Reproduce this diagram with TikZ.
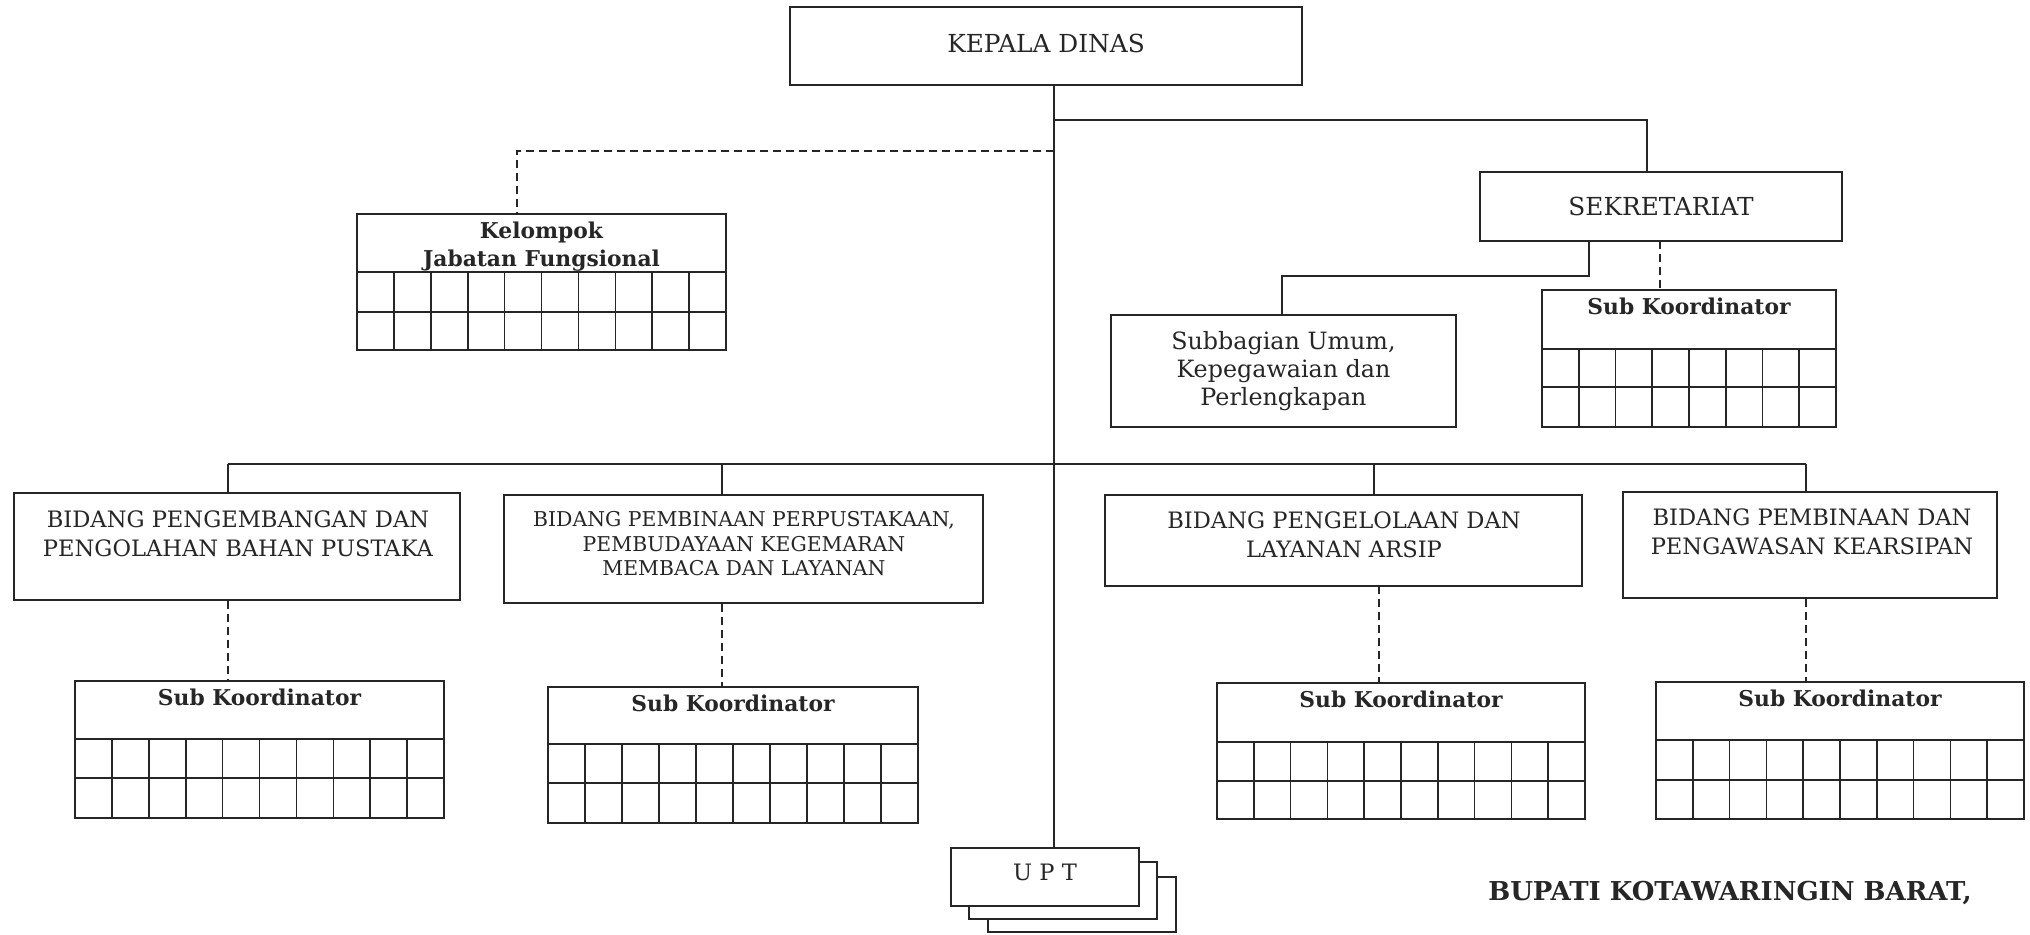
\documentclass[tikz,border=0pt]{standalone}
\usepackage{fontspec}
\setmainfont{DejaVu Serif}
\usetikzlibrary{fit}
\definecolor{ink}{HTML}{262626}
\tikzset{
  box/.style={draw=ink, line width=1.4pt, inner sep=0pt, fill=white},
  conn/.style={draw=ink, line width=1pt},
  dline/.style={draw=ink, line width=1pt, dash pattern=on 4pt off 2.5pt},
  gline/.style={draw=ink, line width=0.8pt},
  bigtext/.style={text=ink, inner sep=0pt, align=center, font=\fontsize{12.4}{15}\selectfont},
  captext/.style={text=ink, inner sep=0pt, align=center, font=\fontsize{11.3}{14.5}\selectfont},
  smallcap/.style={text=ink, inner sep=0pt, align=center, font=\fontsize{10.2}{12.3}\selectfont},
  subtext/.style={text=ink, inner sep=0pt, align=center, font=\fontsize{11.9}{14.2}\selectfont},
  sktext/.style={text=ink, inner sep=0pt, align=center, font=\bfseries\fontsize{10.9}{13.8}\selectfont},
}
\newcommand\gridbox[9]{%
  \node[box, fit={(#2,#4) (#3,#7)}] (#1) {};
  \draw[gline] (#2,#5) -- (#3,#5) (#2,#6) -- (#3,#6);
  \pgfmathtruncatemacro\gbn{#8-1}
  \foreach \i in {1,...,\gbn}{\draw[gline] ({#2+(#3-#2)*\i/#8},#5) -- ({#2+(#3-#2)*\i/#8},#7);}
  \node[sktext, anchor=north] (#1t) at ([yshift=-4.5pt]#1.north) {#9};
}
\begin{document}
\begin{tikzpicture}[x=0.5pt, y=-0.5pt]
\fill[white] (0,0) rectangle (2030,934);
\useasboundingbox (0,0) rectangle (2030,934);

% top level
\node[box, bigtext, text depth=3pt, minimum width=256pt, minimum height=39pt] (kd) at (1046,46) {KEPALA DINAS};
\node[box, bigtext, minimum width=181pt, minimum height=34.5pt] (sek) at (1661,206.5) {SEKRETARIAT};
\node[box, subtext, minimum width=172.5pt, minimum height=56pt] (sub) at (1283.5,371) {Subbagian Umum,\\Kepegawaian dan\\Perlengkapan};

% grid boxes
\gridbox{kjf}{357}{726}{214}{272}{312}{350}{10}{Kelompok\\Jabatan Fungsional}
\gridbox{sks}{1542}{1836}{290}{349}{387}{427}{8}{Sub Koordinator}
\gridbox{sk1}{75}{444}{681}{739}{778}{818}{10}{Sub Koordinator}
\gridbox{sk2}{548}{918}{687}{744}{783}{823}{10}{Sub Koordinator}
\gridbox{sk3}{1217}{1585}{683}{742}{781}{819}{10}{Sub Koordinator}
\gridbox{sk4}{1656}{2024}{682}{740}{780}{819}{10}{Sub Koordinator}

% bidang boxes
\node[box, fit={(14,493) (460,600)}] (b1) {};
\node[captext, anchor=north] (b1t) at (238,510) {BIDANG PENGEMBANGAN DAN\\PENGOLAHAN BAHAN PUSTAKA};
\node[box, fit={(504,495) (983,603)}] (b2) {};
\node[smallcap, anchor=north] (b2t) at (744,511) {BIDANG PEMBINAAN PERPUSTAKAAN,\\PEMBUDAYAAN KEGEMARAN\\MEMBACA DAN LAYANAN};
\node[box, fit={(1105,495) (1582,586)}] (b3) {};
\node[captext, anchor=north] (b3t) at (1344,511) {BIDANG PENGELOLAAN DAN\\LAYANAN ARSIP};
\node[box, fit={(1623,492) (1997,598)}] (b4) {};
\node[captext, anchor=north] (b4t) at (1812,508) {BIDANG PEMBINAAN DAN\\PENGAWASAN KEARSIPAN};

% UPT stack
\node[box, fit={(988,877) (1176,932)}] (upt3) {};
\node[box, fit={(969,862) (1157,919)}] (upt2) {};
\node[box, captext, text depth=5pt, minimum width=94pt, minimum height=29pt] (upt1) at (1045,877) {U P T};

% signature
\node[text=ink, inner sep=0pt, font=\bfseries\fontsize{13}{15}\selectfont] (bup) at (1730,893) {BUPATI KOTAWARINGIN BARAT,};

% connectors
\coordinate (spine) at (1054,0);
\draw[conn] (kd.south -| spine) -- (upt1.north -| spine);
\coordinate (j1) at (1054,120);
\coordinate (sekin) at (1647,172);
\draw[conn] (j1) -| (sekin);
\coordinate (j2) at (1054,151);
\coordinate (kjin) at (517,214);
\draw[dline] (j2) -| (kjin);

\coordinate (sekout) at (1589,241);
\coordinate (subin) at (1282,315);
\draw[conn] (sekout) -- (1589,276) -| (subin);
\coordinate (sekd) at (1660,241);
\draw[dline] (sekd) -- (sks.north -| sekd);

\coordinate (bar) at (1054,464);
\coordinate (b1in) at (228,493);
\coordinate (b2in) at (722,495);
\coordinate (b3in) at (1374,495);
\coordinate (b4in) at (1806,492);
\draw[conn] (b1in |- bar) -- (b4in |- bar);
\foreach \b in {b1in,b2in,b3in,b4in} \draw[conn] (\b |- bar) -- (\b);

\draw[dline] (b1.south -| b1in) -- (sk1.north -| b1in);
\draw[dline] (b2.south -| b2in) -- (sk2.north -| b2in);
\coordinate (b3out) at (1379,586);
\draw[dline] (b3out) -- (sk3.north -| b3out);
\draw[dline] (b4.south -| b4in) -- (sk4.north -| b4in);
\end{tikzpicture}
\end{document}
